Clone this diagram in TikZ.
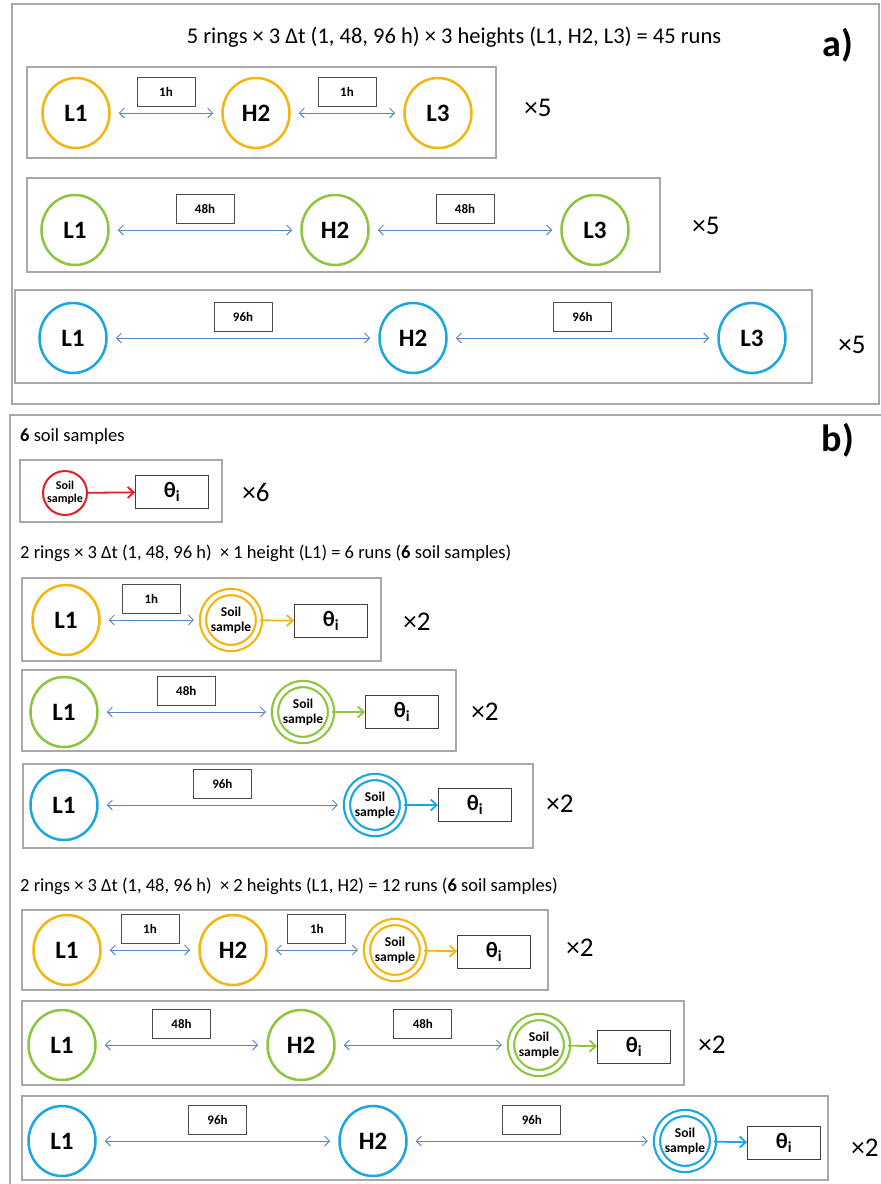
\documentclass[tikz,border=0pt]{standalone}
\usepackage{fontspec}
\setmainfont{Carlito}
\usetikzlibrary{arrows.meta,shapes.geometric}
\definecolor{cy}{HTML}{F5B50F}
\definecolor{cg}{HTML}{8CC63F}
\definecolor{cb}{HTML}{1BA6E0}
\definecolor{cr}{HTML}{E31E24}
\definecolor{ca}{HTML}{5B87BF}
\definecolor{cf}{HTML}{A8A8A8}
\tikzset{
  frame/.style={draw=cf, line width=1.3pt},
  ring/.style={ellipse, draw=#1, line width=2.5pt, minimum width=67pt, minimum height=70pt, inner sep=0pt, font=\fontsize{25}{25}\selectfont\bfseries},
  soil/.style={circle, draw=#1, double=white, double distance=4pt, line width=2.2pt, minimum size=56pt, inner sep=0pt, align=center, font=\fontsize{13.5}{15}\selectfont\bfseries},
  lab/.style={draw=black!70, line width=0.8pt, minimum width=58pt, minimum height=29pt, inner sep=0pt, font=\fontsize{13}{13}\selectfont\bfseries, midway, above=6pt},
  theta/.style={draw=black!75, line width=0.9pt, minimum width=73pt, minimum height=33pt, inner sep=0pt, font=\fontsize{22}{22}\selectfont\bfseries},
  dbl/.style={draw=ca, line width=0.9pt, {Straight Barb[length=5pt,width=10pt]}-{Straight Barb[length=5pt,width=10pt]}, shorten <=8pt, shorten >=8pt},
  sarr/.style={draw=#1, line width=1.8pt, -{Straight Barb[length=6pt,width=11pt]}},
  times/.style={font=\fontsize{27}{27}\selectfont, inner sep=0pt},
  txt/.style={font=\fontsize{18.5}{18.5}\selectfont, inner sep=0pt},
  panel/.style={font=\fontsize{38}{38}\selectfont\bfseries, inner sep=0pt}
}
\begin{document}
\begin{tikzpicture}[x=1pt,y=-1pt]
\useasboundingbox (0,0) rectangle (881,1184);
\fill[white] (0,0) rectangle (881,1184);
% ---------- panel a
\draw[frame] (12,4) rectangle (879,404);
\node[txt, font=\fontsize{22.5}{22.5}\selectfont] (ta) at (454,37) {5 rings × 3 Δt (1, 48, 96 h) × 3 heights (L1, H2, L3) = 45 runs};
\node[panel] (pa) at (838,45) {a)};
% row 1
\draw[frame] (27,67) rectangle (496,158);
\node[ring=cy] (a1l) at (76,113) {L1};
\node[ring=cy] (a1h) at (256,113) {H2};
\node[ring=cy] (a1m) at (438,113) {L3};
\draw[dbl] (a1l) -- node[lab] (a1t1) {1h} (a1h);
\draw[dbl] (a1h) -- node[lab] (a1t2) {1h} (a1m);
\node[times] (a1x) at (538,108) {×5};
% row 2
\draw[frame] (27,178) rectangle (660,272);
\node[ring=cg] (a2l) at (75,230) {L1};
\node[ring=cg] (a2h) at (335,230) {H2};
\node[ring=cg] (a2m) at (595,230) {L3};
\draw[dbl] (a2l) -- node[lab] (a2t1) {48h} (a2h);
\draw[dbl] (a2h) -- node[lab] (a2t2) {48h} (a2m);
\node[times] (a2x) at (706,226) {×5};
% row 3
\draw[frame] (15,290) rectangle (812,383);
\node[ring=cb] (a3l) at (73,338) {L1};
\node[ring=cb] (a3h) at (413,338) {H2};
\node[ring=cb] (a3m) at (752,338) {L3};
\draw[dbl] (a3l) -- node[lab] (a3t1) {96h} (a3h);
\draw[dbl] (a3h) -- node[lab] (a3t2) {96h} (a3m);
\node[times] (a3x) at (852,345) {×5};
% ---------- panel b
\draw[frame] (10,415) rectangle (895,1195);
\node[txt, anchor=west] (tb1) at (20,437) {\textbf{6} soil samples};
\node[panel] (pb) at (838,440) {b)};
% b1
\draw[frame] (20,460) rectangle (222,522);
\node[circle, draw=cr, line width=2pt, minimum size=44pt, inner sep=0pt, align=center, font=\fontsize{12}{13}\selectfont\bfseries] (b1s) at (65,493) {Soil\\sample};
\node[theta] (b1t) at (172,492) {θ\textsubscript{i}};
\draw[sarr=cr] (b1s) -- (b1t);
\node[times] (b1x) at (256,492) {×6};
\node[txt, anchor=west] (tb2) at (20,553) {2 rings × 3 Δt (1, 48, 96 h) \ × 1 height (L1) = 6 runs (\textbf{6} soil samples)};
% b2
\draw[frame] (22,578) rectangle (381,661);
\node[ring=cy] (b2l) at (66,620) {L1};
\node[soil=cy] (b2s) at (231,620) {Soil\\sample};
\node[theta] (b2t) at (331,621) {θ\textsubscript{i}};
\draw[dbl] (b2l) -- node[lab] (b2t1) {1h} (b2s);
\draw[sarr=cy] (b2s) -- (b2t);
\node[times] (b2x) at (417,622) {×2};
% b3
\draw[frame] (22,670) rectangle (456,751);
\node[ring=cg] (b3l) at (64,712) {L1};
\node[soil=cg] (b3s) at (303,712) {Soil\\sample};
\node[theta] (b3t) at (402,712) {θ\textsubscript{i}};
\draw[dbl] (b3l) -- node[lab] (b3t1) {48h} (b3s);
\draw[sarr=cg] (b3s) -- (b3t);
\node[times] (b3x) at (485,712) {×2};
% b4
\draw[frame] (23,764) rectangle (533,848);
\node[ring=cb] (b4l) at (64,805) {L1};
\node[soil=cb] (b4s) at (375,805) {Soil\\sample};
\node[theta] (b4t) at (475,805) {θ\textsubscript{i}};
\draw[dbl] (b4l) -- node[lab] (b4t1) {96h} (b4s);
\draw[sarr=cb] (b4s) -- (b4t);
\node[times] (b4x) at (560,804) {×2};
\node[txt, anchor=west] (tb3) at (20,886) {2 rings × 3 Δt (1, 48, 96 h) \ × 2 heights (L1, H2) = 12 runs (\textbf{6} soil samples)};
% b5
\draw[frame] (22,910) rectangle (548,990);
\node[ring=cy] (b5l) at (67,950) {L1};
\node[ring=cy] (b5h) at (233,950) {H2};
\node[soil=cy] (b5s) at (395,950) {Soil\\sample};
\node[theta] (b5t) at (494,952) {θ\textsubscript{i}};
\draw[dbl] (b5l) -- node[lab] (b5t1) {1h} (b5h);
\draw[dbl] (b5h) -- node[lab] (b5t2) {1h} (b5s);
\draw[sarr=cy] (b5s) -- (b5t);
\node[times] (b5x) at (580,948) {×2};
% b6
\draw[frame] (22,1001) rectangle (684,1085);
\node[ring=cg] (b6l) at (62,1045) {L1};
\node[ring=cg] (b6h) at (301,1045) {H2};
\node[soil=cg] (b6s) at (539,1045) {Soil\\sample};
\node[theta] (b6t) at (634,1047) {θ\textsubscript{i}};
\draw[dbl] (b6l) -- node[lab] (b6t1) {48h} (b6h);
\draw[dbl] (b6h) -- node[lab] (b6t2) {48h} (b6s);
\draw[sarr=cg] (b6s) -- (b6t);
\node[times] (b6x) at (712,1045) {×2};
% b7
\draw[frame] (22,1096) rectangle (828,1180);
\node[ring=cb] (b7l) at (62,1141) {L1};
\node[ring=cb] (b7h) at (373,1141) {H2};
\node[soil=cb] (b7s) at (685,1141) {Soil\\sample};
\node[theta] (b7t) at (784,1143) {θ\textsubscript{i}};
\draw[dbl] (b7l) -- node[lab] (b7t1) {96h} (b7h);
\draw[dbl] (b7h) -- node[lab] (b7t2) {96h} (b7s);
\draw[sarr=cb] (b7s) -- (b7t);
\node[times] (b7x) at (865,1148) {×2};
\end{tikzpicture}
\end{document}
